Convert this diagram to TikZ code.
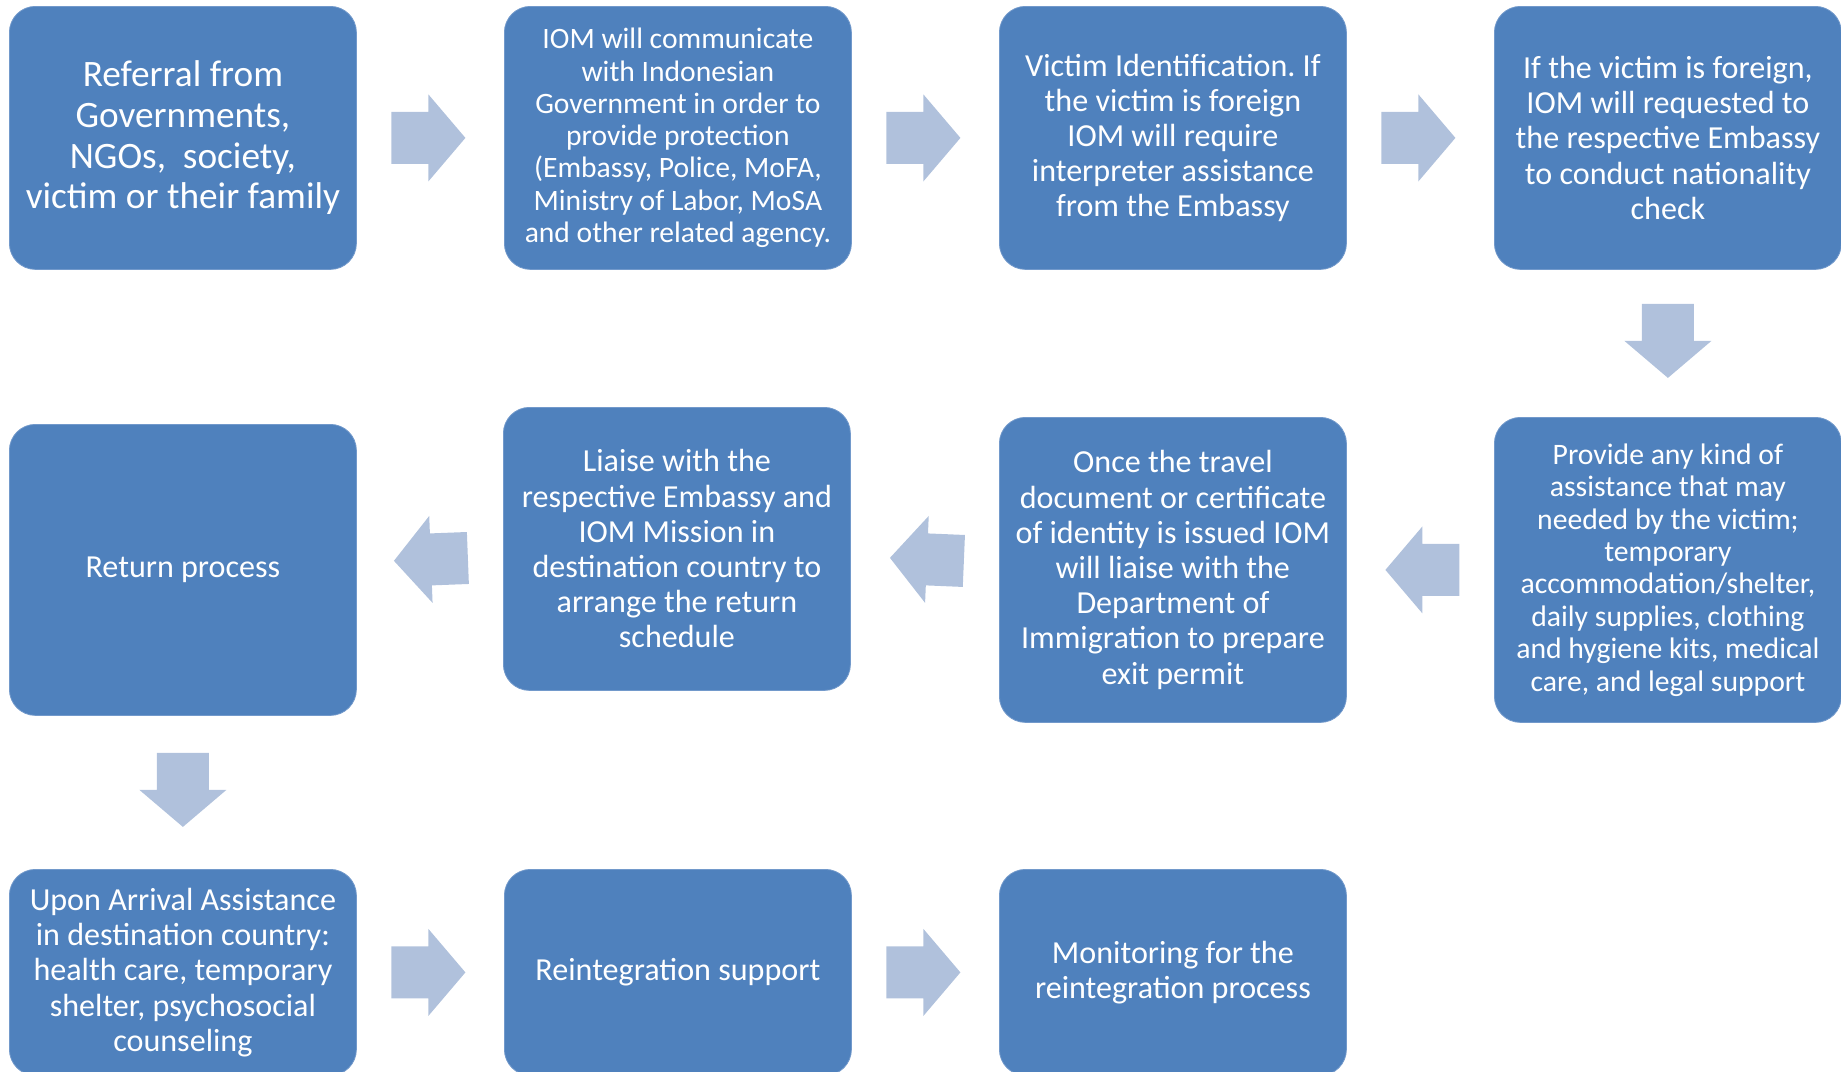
\documentclass[tikz,border=0pt]{standalone}
\usepackage{fontspec}
\setmainfont{Carlito}
\usetikzlibrary{calc}
\definecolor{boxblue}{HTML}{4F81BD}
\definecolor{boxedge}{HTML}{7299CB}
\definecolor{arrowblue}{RGB}{176,193,220}
\frenchspacing
\begin{document}
\begin{tikzpicture}[x=1pt,y=-1pt,
  box/.style={rectangle, rounded corners=26pt, fill=boxblue, draw=boxedge, line width=0.8pt,
    text=white, align=center, inner sep=0pt, minimum width=347pt, anchor=north west},
  fs/.style={font=\fontsize{32.1}{35.2}\selectfont},
  blockarrow/.pic={\fill[arrowblue] (-37,-26) -- (0,-26) -- (0,-43.5) -- (37,0) -- (0,43.5) -- (0,26) -- (-37,26) -- cycle;}
]
\useasboundingbox (0,0) rectangle (1841,1071);

% Row 1
\node[box, minimum height=263pt, font=\fontsize{37.3}{40.6}\selectfont] (r1c1) at (9,6)
  {Referral from\\Governments,\\NGOs,\ \ society,\\victim or their family};
\node[box, minimum height=263pt, font=\fontsize{29.6}{32.3}\selectfont] (r1c2) at (504,6)
  {IOM will communicate\\with Indonesian\\Government in order to\\provide protection\\(Embassy, Police, MoFA,\\Ministry of Labor, MoSA\\and other related agency.};
\node[box, minimum height=263pt, fs] (r1c3) at (999,6)
  {Victim Identification. If\\the victim is foreign\\IOM will require\\interpreter assistance\\from the Embassy};
\node[box, minimum height=263pt, fs] (r1c4) at (1494,6)
  {If the victim is foreign,\\IOM will requested to\\the respective Embassy\\to conduct nationality\\check};

% Row 2
\node[box, minimum height=291pt, fs] (r2c1) at (9,424) {Return process};
\node[box, minimum height=283pt, fs] (r2c2) at (503,407)
  {Liaise with the\\respective Embassy and\\IOM Mission in\\destination country to\\arrange the return\\schedule};
\node[box, minimum height=305pt, fs] (r2c3) at (999,417)
  {Once the travel\\document or certificate\\of identity is issued IOM\\will liaise with the\\Department of\\Immigration to prepare\\exit permit};
\node[box, minimum height=305pt, font=\fontsize{29.7}{32.4}\selectfont] (r2c4) at (1494,417)
  {Provide any kind of\\assistance that may\\needed by the victim;\\temporary\\accommodation/shelter,\\daily supplies, clothing\\and hygiene kits, medical\\care, and legal support};

% Row 3
\node[box, minimum height=206pt, fs] (r3c1) at (9,869)
  {Upon Arrival Assistance\\in destination country:\\health care, temporary\\shelter, psychosocial\\counseling};
\node[box, minimum height=206pt, fs] (r3c2) at (504,869) {Reintegration support};
\node[box, minimum height=206pt, fs] (r3c3) at (999,869)
  {Monitoring for the\\reintegration process};

% Block arrows
\path ($(r1c1.east)!0.5!(r1c2.west)+(-2,0)$) pic{blockarrow};
\path ($(r1c2.east)!0.5!(r1c3.west)+(-2,0)$) pic{blockarrow};
\path ($(r1c3.east)!0.5!(r1c4.west)+(-2,0)$) pic{blockarrow};
\path ($(r1c4.south)!0.5!(r2c4.north)+(0,-2.5)$) pic[rotate=-90]{blockarrow};
\path ($(r2c4.west)!0.5!(r2c3.east)+(2,0)$) pic[rotate=180]{blockarrow};
\path ($(r2c3.west)!0.5!(r2c2.east)+(2,0)$) pic[rotate=177.6]{blockarrow};
\path ($(r2c2.west)!0.5!(r2c1.east)+(1,0)$) pic[rotate=182.2]{blockarrow};
\path ($(r2c1.south)!0.5!(r3c1.north)+(0,-2.5)$) pic[rotate=-90]{blockarrow};
\path ($(r3c1.east)!0.5!(r3c2.west)+(-2,0)$) pic{blockarrow};
\path ($(r3c2.east)!0.5!(r3c3.west)+(-2,0)$) pic{blockarrow};
\end{tikzpicture}
\end{document}
